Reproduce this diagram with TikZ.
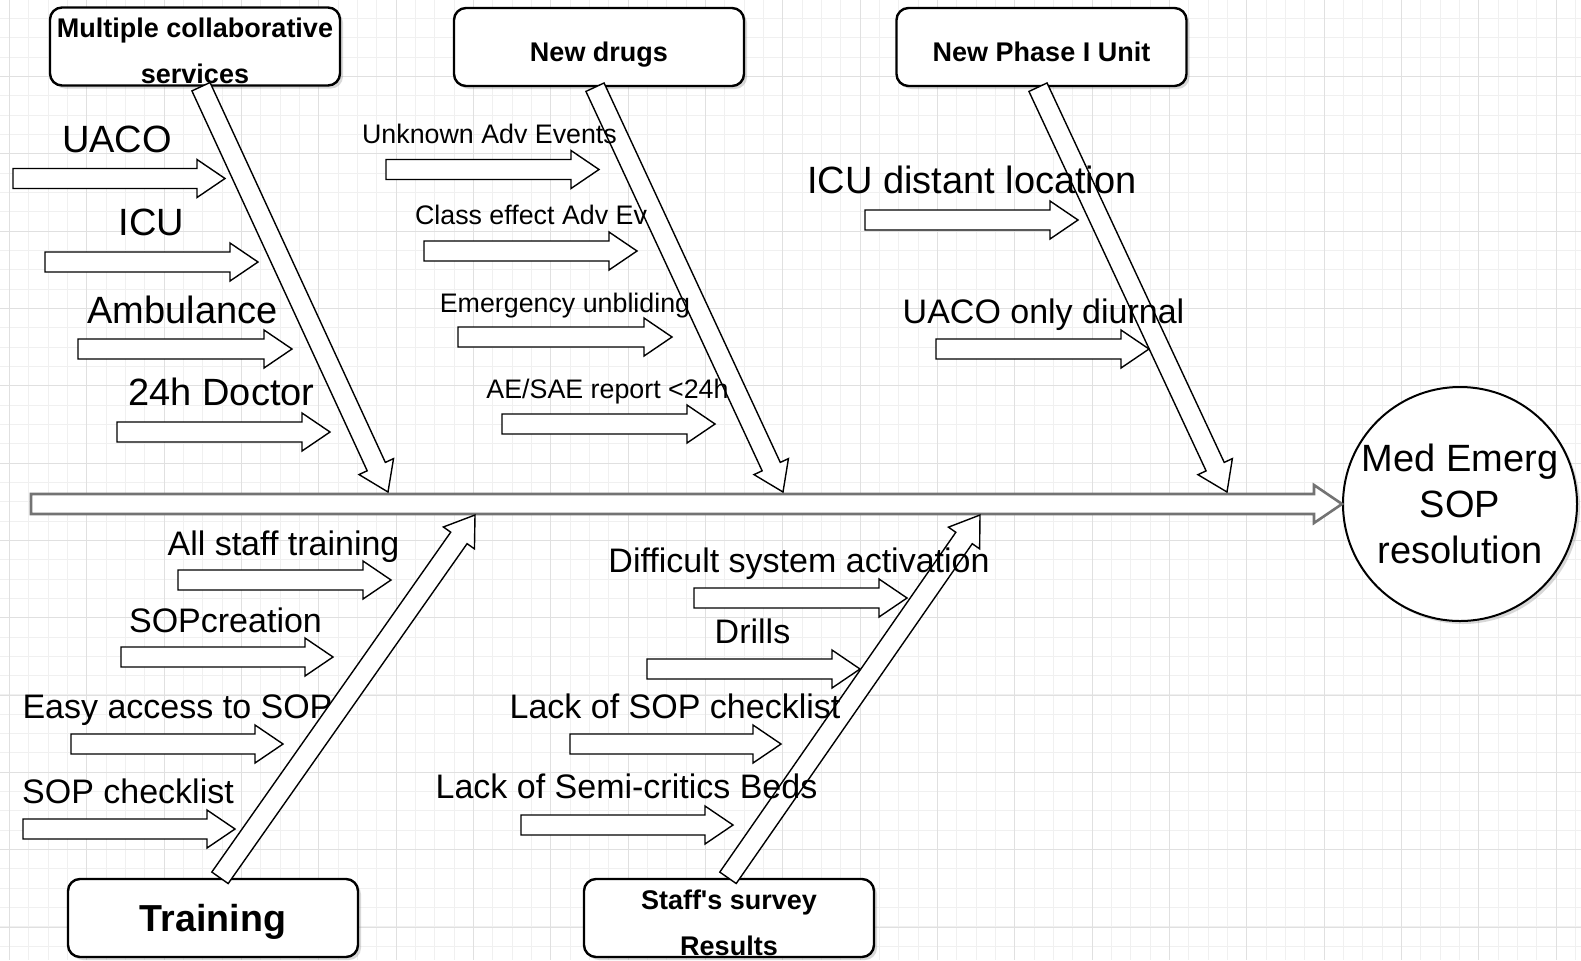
\documentclass[tikz,border=0pt]{standalone}
\usepackage{fontspec}
\setmainfont{Liberation Sans}
\newfontfamily\plainquote{Liberation Sans}
\usetikzlibrary{calc,shadows}

% hollow arrow sizes
\def\fatw{5pt}
\def\fathw{9.5pt}
\def\fathl{14pt}

\tikzset{
  gridminor/.style={draw=black!6, line width=0.5pt},
  gridmajor/.style={draw=black!12, line width=0.5pt},
  fat/.style={draw=black, line width=0.7pt, fill=white, to path={
      ($(\tikztostart)!\fatw!90:(\tikztotarget)$)
      -- ($(\tikztotarget)!\fathl!(\tikztostart)!\fatw!-90:(\tikztostart)$)
      -- ($(\tikztotarget)!\fathl!(\tikztostart)!\fathw!-90:(\tikztostart)$)
      -- (\tikztotarget)
      -- ($(\tikztotarget)!\fathl!(\tikztostart)!\fathw!90:(\tikztostart)$)
      -- ($(\tikztotarget)!\fathl!(\tikztostart)!\fatw!90:(\tikztostart)$)
      -- ($(\tikztostart)!\fatw!-90:(\tikztotarget)$) -- cycle}},
  cat/.style={draw, line width=1.2pt, rounded corners=6pt, fill=white,
    minimum width=145pt, minimum height=39pt, inner sep=0pt,
    drop shadow={shadow xshift=1.5pt, shadow yshift=-1.5pt, opacity=0.3}},
  cattext/.style={yshift=-2.3pt, text depth=0pt, inner sep=0pt, align=center,
    font=\bfseries\fontsize{13.5}{23}\selectfont},
  causebig/.style={anchor=base, inner sep=0pt, font=\fontsize{19}{23}\selectfont},
  causemid/.style={anchor=base, inner sep=0pt, font=\fontsize{17}{20}\selectfont},
  causesmall/.style={anchor=base, inner sep=0pt, font=\fontsize{13.4}{16}\selectfont}
}

\begin{document}
\begin{tikzpicture}[x=0.5pt, y=-0.5pt]
  \fill[white] (0,0) rectangle (1581,960);
  \useasboundingbox (0,0) rectangle (1581,960);
  % background grid
  \foreach \k in {0,...,82}
    \draw[gridminor] ({-9.93+19.333*\k},0) -- ({-9.93+19.333*\k},960);
  \foreach \k in {0,...,50}
    \draw[gridminor] (0,{-1+19.333*\k}) -- (1581,{-1+19.333*\k});
  \foreach \k in {0,...,20}
    \draw[gridmajor] ({9.4+77.333*\k},0) -- ({9.4+77.333*\k},960);
  \foreach \k in {0,...,12}
    \draw[gridmajor] (0,{-1+77.333*\k}) -- (1581,{-1+77.333*\k});

  % categories and effect
  \node[cat, label={[cattext]center:Multiple collaborative\\services}] (mcs) at (195,46.5) {};
  \node[cat, label={[cattext]center:New drugs}] (drugs) at (599,47) {};
  \node[cat, label={[cattext]center:New Phase I Unit}] (phase) at (1041.5,47) {};
  \node[cat, label={[cattext, yshift=2.3pt, font=\bfseries\fontsize{18.8}{23}\selectfont]center:Training}]
    (training) at (213,918) {};
  \node[cat, label={[cattext]center:Staff{\plainquote'}s survey\\Results}] (survey) at (729,918) {};
  \node[circle, draw, line width=1pt, fill=white, minimum size=117pt, inner sep=0pt,
    align=center, drop shadow={shadow xshift=1.5pt, shadow yshift=-1.5pt, opacity=0.3},
    font=\fontsize{19}{23}\selectfont] (effect) at (1460,504) {Med Emerg\\SOP\\resolution};

  % spine
  \coordinate (tail) at (31,504);
  \draw[fat, draw=black!55, line width=1.3pt] (tail) to (effect.west);

  % bones
  \coordinate (mcsFoot) at ([xshift=3pt]mcs.south);
  \coordinate (mcsTip) at (388,492);
  \draw[fat] (mcsFoot) to (mcsTip);
  \coordinate (drugsFoot) at ([xshift=-2pt]drugs.south);
  \coordinate (drugsTip) at (783,492);
  \draw[fat] (drugsFoot) to (drugsTip);
  \coordinate (phaseFoot) at ([xshift=-1.75pt]phase.south);
  \coordinate (phaseTip) at (1227,492);
  \draw[fat] (phaseFoot) to (phaseTip);
  \coordinate (trainingFoot) at ([xshift=3.5pt]training.north);
  \coordinate (trainingTip) at (475,515);
  \draw[fat] (trainingFoot) to (trainingTip);
  \coordinate (surveyFoot) at ([xshift=-0.5pt]survey.north);
  \coordinate (surveyTip) at (980,515);
  \draw[fat] (surveyFoot) to (surveyTip);

  % causes: Multiple collaborative services
  \node[causebig] (uaco) at (117,152.5) {UACO};
  \path (13,178.5) coordinate (uacoFrom) (225,178.5) coordinate (uacoTo);
  \draw[fat] (uacoFrom) to (uacoTo);
  \node[causebig] (icu) at (151.5,235) {ICU};
  \path (45,262) coordinate (icuFrom) (258,262) coordinate (icuTo);
  \draw[fat] (icuFrom) to (icuTo);
  \node[causebig] (ambulance) at (182.5,323) {Ambulance};
  \path (78,349) coordinate (ambulanceFrom) (292,349) coordinate (ambulanceTo);
  \draw[fat] (ambulanceFrom) to (ambulanceTo);
  \node[causebig] (doctor) at (221.5,405) {24h Doctor};
  \path (117,432) coordinate (doctorFrom) (330,432) coordinate (doctorTo);
  \draw[fat] (doctorFrom) to (doctorTo);

  % causes: New drugs
  \node[causesmall] (unknown) at (489.5,143) {Unknown Adv Events};
  \path (386,169.5) coordinate (unknownFrom) (599,169.5) coordinate (unknownTo);
  \draw[fat] (unknownFrom) to (unknownTo);
  \node[causesmall] (classeff) at (531,224) {Class effect Adv Ev};
  \path (424,251) coordinate (classeffFrom) (637,251) coordinate (classeffTo);
  \draw[fat] (classeffFrom) to (classeffTo);
  \node[causesmall] (unblind) at (565,312) {Emergency unbliding};
  \path (458,337) coordinate (unblindFrom) (672,337) coordinate (unblindTo);
  \draw[fat] (unblindFrom) to (unblindTo);
  \node[causesmall] (report) at (607.5,398) {AE/SAE report <24h};
  \path (502,424) coordinate (reportFrom) (715,424) coordinate (reportTo);
  \draw[fat] (reportFrom) to (reportTo);

  % causes: New Phase I Unit
  \node[causebig] (distant) at (972,193) {ICU distant location};
  \path (865,220) coordinate (distantFrom) (1078,220) coordinate (distantTo);
  \draw[fat] (distantFrom) to (distantTo);
  \node[causemid] (diurnal) at (1043.5,323) {UACO only diurnal};
  \path (936,349) coordinate (diurnalFrom) (1149,349) coordinate (diurnalTo);
  \draw[fat] (diurnalFrom) to (diurnalTo);

  % causes: Training
  \node[causemid] (allstaff) at (283.5,555) {All staff training};
  \path (178,580) coordinate (allstaffFrom) (391,580) coordinate (allstaffTo);
  \draw[fat] (allstaffFrom) to (allstaffTo);
  \node[causemid] (creation) at (225.5,632) {SOPcreation};
  \path (121,657) coordinate (creationFrom) (333,657) coordinate (creationTo);
  \draw[fat] (creationFrom) to (creationTo);
  \node[causemid] (access) at (177.5,718) {Easy access to SOP};
  \path (71,744) coordinate (accessFrom) (283,744) coordinate (accessTo);
  \draw[fat] (accessFrom) to (accessTo);
  \node[causemid] (checklist) at (128,803) {SOP checklist};
  \path (23,829) coordinate (checklistFrom) (235,829) coordinate (checklistTo);
  \draw[fat] (checklistFrom) to (checklistTo);

  % causes: Staff's survey
  \node[causemid] (activation) at (799,572) {Difficult system activation};
  \path (694,598) coordinate (activationFrom) (907,598) coordinate (activationTo);
  \draw[fat] (activationFrom) to (activationTo);
  \node[causemid] (drills) at (752.5,643) {Drills};
  \path (647,669) coordinate (drillsFrom) (860,669) coordinate (drillsTo);
  \draw[fat] (drillsFrom) to (drillsTo);
  \node[causemid] (nolist) at (675,718) {Lack of SOP checklist};
  \path (570,744) coordinate (nolistFrom) (781,744) coordinate (nolistTo);
  \draw[fat] (nolistFrom) to (nolistTo);
  \node[causemid] (beds) at (626.5,798) {Lack of Semi-critics Beds};
  \path (521,825) coordinate (bedsFrom) (733,825) coordinate (bedsTo);
  \draw[fat] (bedsFrom) to (bedsTo);
\end{tikzpicture}
\end{document}
